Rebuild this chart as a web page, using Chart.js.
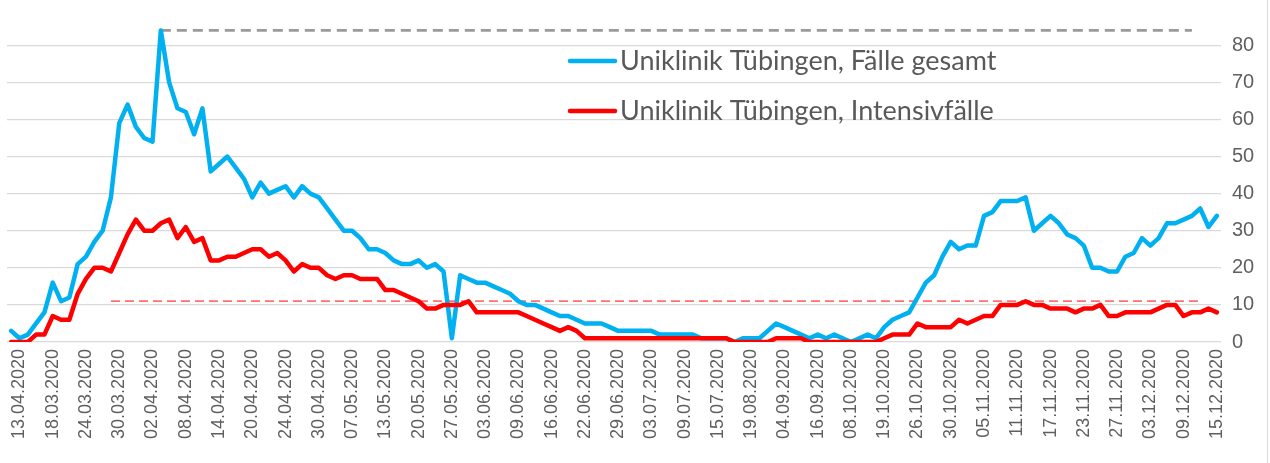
<!DOCTYPE html>
<html>
<head>
<meta charset="utf-8">
<script src="https://cdn.jsdelivr.net/npm/chart.js@4.4.1/dist/chart.umd.min.js"></script>
<style>
  html, body { margin: 0; padding: 0; background: #ffffff; }
  #wrap { width: 1270px; height: 463px; position: relative; }
</style>
</head>
<body>
<div id="wrap"><canvas id="c" width="1270" height="463"></canvas></div>
<script>
// ---- data ----
const tickLabels = [
  "13.04.2020","18.03.2020","24.03.2020","30.03.2020","02.04.2020","08.04.2020",
  "14.04.2020","20.04.2020","24.04.2020","30.04.2020","07.05.2020","13.05.2020",
  "20.05.2020","27.05.2020","03.06.2020","09.06.2020","16.06.2020","22.06.2020",
  "29.06.2020","03.07.2020","09.07.2020","15.07.2020","19.08.2020","04.09.2020",
  "16.09.2020","08.10.2020","19.10.2020","26.10.2020","30.10.2020","05.11.2020",
  "11.11.2020","17.11.2020","23.11.2020","27.11.2020","03.12.2020","09.12.2020",
  "15.12.2020"
];

const seriesNames = ["Uniklinik Tübingen, Fälle gesamt", "Uniklinik Tübingen, Intensivfälle"];

const totalCases = [
  3,1,2,5,8,16,11,12,21,23,27,30,39,59,64,58,55,54,84,70,
  63,62,56,63,46,48,50,47,44,39,43,40,41,42,39,42,40,39,36,33,
  30,30,28,25,25,24,22,21,21,22,20,21,19,1,18,17,16,16,15,14,
  13,11,10,10,9,8,7,7,6,5,5,5,4,3,3,3,3,3,2,2,
  2,2,2,1,1,1,1,0,1,1,1,3,5,4,3,2,1,2,1,2,
  1,0,1,2,1,4,6,7,8,12,16,18,23,27,25,26,26,34,35,38,
  38,38,39,30,32,34,32,29,28,26,20,20,19,19,23,24,28,26,28,32,
  32,33,34,36,31,34
];

const icuCases = [
  0,0,0,2,2,7,6,6,13,17,20,20,19,24,29,33,30,30,32,33,
  28,31,27,28,22,22,23,23,24,25,25,23,24,22,19,21,20,20,18,17,
  18,18,17,17,17,14,14,13,12,11,9,9,10,10,10,11,8,8,8,8,
  8,8,7,6,5,4,3,4,3,1,1,1,1,1,1,1,1,1,1,1,
  1,1,1,1,1,1,1,0,0,0,0,0,1,1,1,1,0,0,0,0,
  0,0,0,0,0,1,2,2,2,5,4,4,4,4,6,5,6,7,7,10,
  10,10,11,10,10,9,9,9,8,9,9,10,7,7,8,8,8,8,9,10,
  10,7,8,8,9,8
];

const peakLevel = 84;          // grey dashed reference line
const peakRange = [18, 142];   // first / last category index of that line
const icuLevel = 11;           // red dashed reference line
const icuRange = [12, 143];

const yTicks = [0, 10, 20, 30, 40, 50, 60, 70, 80];
const labelEvery = 4, labelOffset = 1;

// categories: one per data point; every 4th carries a date label
const categories = totalCases.map((_, i) =>
  (i - labelOffset) % labelEvery === 0 ? tickLabels[(i - labelOffset) / labelEvery] : "");

const levelLine = (lvl, r) => categories.map((_, i) => (i >= r[0] && i <= r[1]) ? lvl : null);

// ---- styling ----
const BLUE = "#00b0f0", RED = "#ff0000", GREY_TXT = "#5f5f5f";
const FONT = "'Liberation Sans', Arial, sans-serif";

const legendPlugin = {
  id: "insideLegend",
  afterDraw(chart) {
    const ctx = chart.ctx;
    const items = [
      { text: seriesNames[0], color: BLUE, y: 61 },
      { text: seriesNames[1], color: RED, y: 111 }
    ];
    ctx.save();
    items.forEach(it => {
      ctx.strokeStyle = it.color;
      ctx.lineWidth = 4.5;
      ctx.lineCap = "round";
      ctx.beginPath();
      ctx.moveTo(570, it.y);
      ctx.lineTo(615, it.y);
      ctx.stroke();
      ctx.fillStyle = "#595959";
      ctx.font = "27px 'Lato', " + FONT;
      ctx.textBaseline = "middle";
      ctx.textAlign = "left";
      ctx.fillText(it.text, 620, it.y);
    });
    // thin frame edge at right
    ctx.strokeStyle = "#d9d9d9";
    ctx.lineWidth = 1;
    ctx.beginPath();
    ctx.moveTo(1267.5, 0);
    ctx.lineTo(1267.5, 463);
    ctx.stroke();
    ctx.restore();
  }
};

new Chart(document.getElementById("c"), {
  type: "line",
  data: {
    labels: categories,
    datasets: [
      { label: "peak", data: levelLine(peakLevel, peakRange), borderColor: "#9a9a9a",
        borderWidth: 2.8, borderDash: [10, 6], pointRadius: 0, order: 3, spanGaps: false },
      { label: "icu-ref", data: levelLine(icuLevel, icuRange), borderColor: "#ff6f6f",
        borderWidth: 1.8, borderDash: [9, 5], pointRadius: 0, order: 2, spanGaps: false },
      { label: seriesNames[0], data: totalCases, borderColor: BLUE, borderWidth: 4.5,
        pointRadius: 0, tension: 0, borderJoinStyle: "round", borderCapStyle: "round", order: 1 },
      { label: seriesNames[1], data: icuCases, borderColor: RED, borderWidth: 4.5,
        pointRadius: 0, tension: 0, borderJoinStyle: "round", borderCapStyle: "round", order: 0 }
    ]
  },
  options: {
    responsive: false,
    animation: false,
    devicePixelRatio: 1,
    layout: { padding: { left: 7, right: 0, top: 11, bottom: 0 } },
    plugins: { legend: { display: false }, tooltip: { enabled: false } },
    scales: {
      x: {
        type: "category",
        offset: true,
        grid: { display: false, drawTicks: false },
        border: { display: false },
        ticks: {
          autoSkip: false, minRotation: 90, maxRotation: 90, padding: 7,
          color: GREY_TXT, font: { family: FONT, size: 18 }
        },
        afterFit: s => { s.height = 121; }
      },
      y: {
        position: "right",
        min: 0, max: 86,
        afterBuildTicks: s => { s.ticks = yTicks.map(v => ({ value: v })); },
        grid: { color: "#d9d9d9", lineWidth: 1.3, drawTicks: false },
        border: { display: false },
        ticks: { padding: 11, color: GREY_TXT, font: { family: FONT, size: 20 } },
        afterFit: s => { s.width = 49; }
      }
    }
  },
  plugins: [legendPlugin]
});
</script>
</body>
</html>
